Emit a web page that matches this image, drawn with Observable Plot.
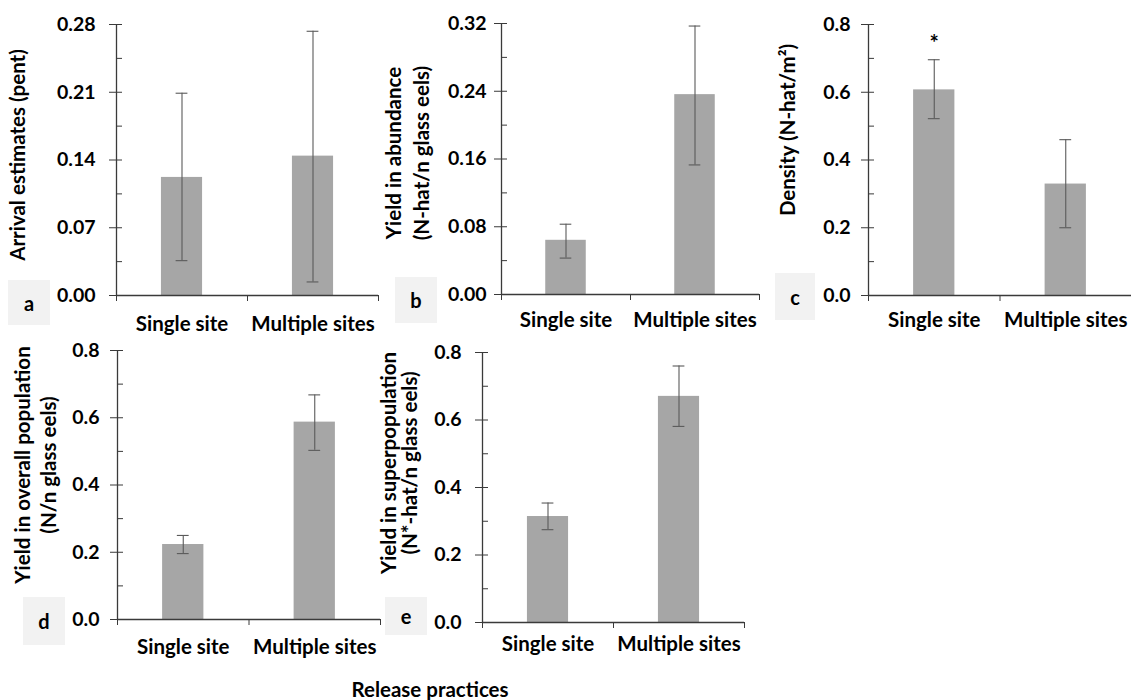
<!DOCTYPE html>
<html>
<head>
<meta charset="utf-8">
<script src="https://cdn.jsdelivr.net/npm/d3@7"></script>
<script src="https://cdn.jsdelivr.net/npm/@observablehq/plot@0.6"></script>
<style>
  html, body { margin: 0; padding: 0; background: #fff; }
  #chart { position: relative; width: 1131px; height: 700px; overflow: hidden; background: #fff;
           font-family: Lato, "Open Sans", sans-serif; font-weight: 700; color: #000; }
  .panel { position: absolute; }
  .tag { position: absolute; background: #f2f2f2; display: flex; align-items: center; justify-content: center;
         font-size: 20px; font-weight: 700; }
  .ytitle { position: absolute; font-size: 20.5px; font-weight: 700; white-space: pre; text-align: center;
            transform: translate(-50%, -50%) rotate(-90deg); }
  .xtitle { position: absolute; font-size: 20.5px; font-weight: 700; white-space: nowrap; transform: translateX(-50%); }
</style>
</head>
<body>
<div id="chart"></div>
<script>
// ---- data ----
const categories = ["Single site", "Multiple sites"];

const arrivalMean = [0.122, 0.144];
const arrivalLow  = [0.036, 0.014];
const arrivalHigh = [0.209, 0.273];

const abundanceMean = [0.064, 0.236];
const abundanceLow  = [0.043, 0.153];
const abundanceHigh = [0.083, 0.317];

const densityMean = [0.607, 0.329];
const densityLow  = [0.522, 0.200];
const densityHigh = [0.696, 0.460];
const densityMarks = ["*", ""];

const overallMean = [0.223, 0.587];
const overallLow  = [0.196, 0.503];
const overallHigh = [0.250, 0.668];

const superMean = [0.314, 0.670];
const superLow  = [0.275, 0.581];
const superHigh = [0.354, 0.760];

const ticksA = [0, 0.07, 0.14, 0.21, 0.28];
const ticksB = [0, 0.08, 0.16, 0.24, 0.32];
const ticksCDE = [0, 0.2, 0.4, 0.6, 0.8];

const titleA = "Arrival estimates (pent)";
const titleB = "Yield in abundance\n(N-hat/n glass eels)";
const titleC = "Density (N-hat/m²)";
const titleD = "Yield in overall population\n(N/n glass eels)";
const titleE = "Yield in superpopulation\n(N*-hat/n glass eels)";
const xTitle = "Release practices";

// ---- panel layout ----
const panels = [
  {tag: "a", mean: arrivalMean, low: arrivalLow, high: arrivalHigh, ticks: ticksA, fmt: ".2f", title: titleA,
   left: 0, top: 0, width: 380, height: 340, mL: 116, mR: 2, mT: 24, mB: 45, gap: 14, catDy: 21,
   titlePos: [17, 155, 24], box: [8, 280, 42, 45]},
  {tag: "b", mean: abundanceMean, low: abundanceLow, high: abundanceHigh, ticks: ticksB, fmt: ".2f", title: titleB,
   left: 380, top: 0, width: 380, height: 340, mL: 121, mR: 1, mT: 23, mB: 46, gap: 8, catDy: 18,
   titlePos: [407, 153, 28], box: [395, 277, 42, 46]},
  {tag: "c", mean: densityMean, low: densityLow, high: densityHigh, ticks: ticksCDE, fmt: ".1f", title: titleC,
   marks: densityMarks,
   left: 760, top: 0, width: 371, height: 340, mL: 108, mR: 0, mT: 24, mB: 45, gap: 11, catDy: 17,
   titlePos: [787, 130, 24], box: [775, 273, 40, 47]},
  {tag: "d", mean: overallMean, low: overallLow, high: overallHigh, ticks: ticksCDE, fmt: ".1f", title: titleD,
   left: 0, top: 330, width: 382, height: 340, mL: 117, mR: 2, mT: 20, mB: 51, gap: 11, catDy: 20,
   titlePos: [35, 465, 26], box: [23, 597, 42, 48]},
  {tag: "e", mean: superMean, low: superLow, high: superHigh, ticks: ticksCDE, fmt: ".1f", title: titleE,
   left: 380, top: 330, width: 366, height: 340, mL: 102, mR: 2, mT: 22, mB: 48, gap: 14, catDy: 14,
   titlePos: [399, 463, 21], box: [385, 597, 42, 38]}
];

const chart = document.getElementById("chart");
const halfBar = 0.157;
const halfCap = 0.045;
const axisColor = "#3a3a3a";
const errColor = "#5a5a5a";

for (const p of panels) {
  const rows = categories.map((c, i) => ({
    cat: c, i, mean: p.mean[i], low: p.low[i], high: p.high[i], mark: p.marks ? p.marks[i] : ""
  }));
  const top = p.ticks[p.ticks.length - 1];
  const step = p.ticks[1] - p.ticks[0];
  const minor = d3.range(0, top + step / 4, step / 2);
  const plot = Plot.plot({
    width: p.width, height: p.height,
    marginLeft: p.mL, marginRight: p.mR, marginTop: p.mT, marginBottom: p.mB,
    x: {domain: [0, categories.length], axis: null},
    y: {domain: [0, top], axis: null},
    style: {fontFamily: "Lato, 'Open Sans', sans-serif", fontWeight: 700, background: "transparent", overflow: "visible", color: "#000"},
    marks: [
      Plot.rectY(rows, {x1: d => d.i + 0.5 - halfBar, x2: d => d.i + 0.5 + halfBar, y1: 0, y2: "mean", fill: "#a6a6a6"}),
      Plot.ruleX(rows, {x: d => d.i + 0.5, y1: "low", y2: "high", stroke: errColor, strokeWidth: 1.1}),
      Plot.ruleY(rows, {y: "high", x1: d => d.i + 0.5 - halfCap, x2: d => d.i + 0.5 + halfCap, stroke: errColor, strokeWidth: 1.1}),
      Plot.ruleY(rows, {y: "low", x1: d => d.i + 0.5 - halfCap, x2: d => d.i + 0.5 + halfCap, stroke: errColor, strokeWidth: 1.1}),
      Plot.text(rows.filter(d => d.mark), {x: d => d.i + 0.5, y: "high", text: "mark", dy: -16, fontSize: 22, fontWeight: 700, fill: "#000"}),
      Plot.ruleX([0], {stroke: axisColor, strokeWidth: 1.3}),
      Plot.ruleY([0], {stroke: axisColor, strokeWidth: 1.3}),
      Plot.axisY({ticks: p.ticks, tickSize: 7, tickPadding: p.gap, tickFormat: d3.format(p.fmt), fontSize: 19.5, fontWeight: 700, stroke: axisColor, fill: "#000"}),
      Plot.axisY({ticks: minor, tickSize: 6, dx: 6, tickFormat: () => "", stroke: axisColor}),
      Plot.axisX({ticks: d3.range(categories.length + 1), tickSize: 6, tickFormat: () => "", stroke: axisColor}),
      Plot.text(rows, {x: d => d.i + 0.5, text: "cat", frameAnchor: "bottom", lineAnchor: "top", dy: p.catDy, fontSize: 20.5, fontWeight: 700, fill: "#000"})
    ]
  });
  const wrap = document.createElement("div");
  wrap.className = "panel";
  wrap.style.left = p.left + "px";
  wrap.style.top = p.top + "px";
  wrap.appendChild(plot);
  chart.appendChild(wrap);

  const yt = document.createElement("div");
  yt.className = "ytitle";
  yt.style.left = p.titlePos[0] + "px";
  yt.style.top = p.titlePos[1] + "px";
  yt.style.lineHeight = p.titlePos[2] + "px";
  yt.textContent = p.title;
  chart.appendChild(yt);

  const t = document.createElement("div");
  t.className = "tag";
  t.style.left = p.box[0] + "px";
  t.style.top = p.box[1] + "px";
  t.style.width = p.box[2] + "px";
  t.style.height = p.box[3] + "px";
  t.textContent = p.tag;
  chart.appendChild(t);
}

const xt = document.createElement("div");
xt.className = "xtitle";
xt.style.left = "430px";
xt.style.top = "677px";
xt.textContent = xTitle;
chart.appendChild(xt);
</script>
</body>
</html>
